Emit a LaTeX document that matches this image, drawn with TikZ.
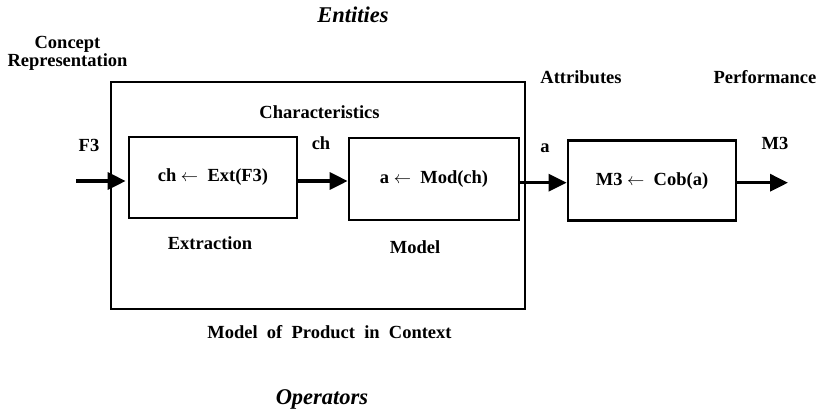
\documentclass[tikz,border=0pt]{standalone}
\usepackage{fontspec}
\setmainfont{Liberation Serif}
\usetikzlibrary{arrows.meta}
\begin{document}
\begin{tikzpicture}[x=1pt,y=-1pt,
  lbl/.style={font=\fontsize{18.5}{16}\selectfont\bfseries, inner sep=0pt},
  ilbl/.style={font=\fontsize{22.5}{24}\selectfont\bfseries\itshape, inner sep=0pt},
  opbox/.style={draw, line width=2.7pt, minimum width=168pt, minimum height=81pt, inner sep=0pt, font=\fontsize{18.5}{20}\selectfont\bfseries},
  flow/.style={line width=3.2pt, -{Triangle[length=18pt,width=17pt]}}
]
\useasboundingbox (0,0) rectangle (820,413);
\node[draw, line width=2.7pt, minimum width=414pt, minimum height=227pt, inner sep=0pt] (outer) at (318,195.5) {};
\node[ilbl] (entities) at (353,15) {Entities};
\node[ilbl] (operators) at (322,399) {Operators};
\node[lbl, align=center] (concept) at (67.5,53) {Concept\\Representation};
\node[lbl] (attr) at (581,77) {Attributes};
\node[lbl] (perf) at (765,77) {Performance};
\node[lbl] (chars) at (319.5,112) {Characteristics};
\node[lbl] (f3) at (89,145) {F3};
\node[lbl] (chl) at (321,143) {ch};
\node[lbl] (al) at (545,148) {a};
\node[lbl] (m3l) at (775,143) {M3};
\node[opbox] (ext) at (213,177.5) {ch $\leftarrow$\ \ Ext(F3)};
\node[opbox, minimum width=170pt, minimum height=82pt] (mod) at (434,179) {a $\leftarrow$\ \ Mod(ch)};
\node[opbox, minimum height=80pt] (cob) at (652,180.7) {M3 $\leftarrow$\ \ Cob(a)};
\node[lbl] (extl) at (210,243) {Extraction};
\node[lbl] (modl) at (415,247) {Model};
\node[lbl] (ctx) at (329.5,332) {Model\ \ of\ \ Product\ \ in\ \ Context};
\coordinate (in) at (76,181);
\coordinate (out) at (788,182.7);
\draw[flow] (in) -- ([xshift=-2pt]in -| ext.west);
\draw[flow] (ext.east |- in) -- (mod.west |- in);
\draw[flow] (mod.east |- out) -- (cob.west |- out);
\draw[flow] (cob.east |- out) -- (out);
\end{tikzpicture}
\end{document}
